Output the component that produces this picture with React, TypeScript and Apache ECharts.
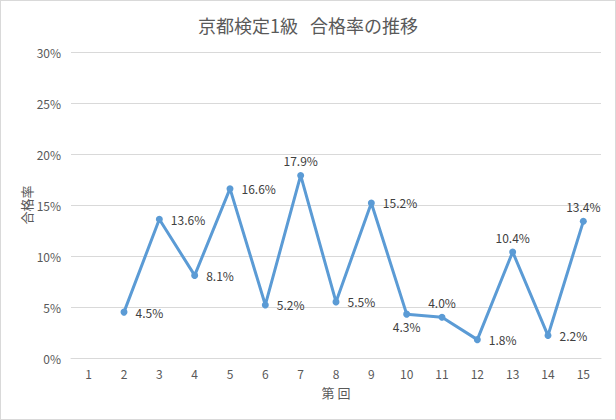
import React, { useEffect, useRef } from "react";
import * as echarts from "echarts";

const categories = ["1", "2", "3", "4", "5", "6", "7", "8", "9", "10", "11", "12", "13", "14", "15"];
const passRates: (number | null)[] = [null, 4.5, 13.6, 8.1, 16.6, 5.2, 17.9, 5.5, 15.2, 4.3, 4.0, 1.8, 10.4, 2.2, 13.4];
const labelPositions = ["right", "right", "right", "right", "right", "right", "top", "right", "right", "bottom", "top", "right", "top", "right", "top"];
const yTicks = [0, 5, 10, 15, 20, 25, 30];

const FONT = "'Noto Sans CJK JP', 'Noto Sans', sans-serif";

export default function App() {
  const ref = useRef<HTMLDivElement>(null);
  useEffect(() => {
    document.body.style.margin = "0";
    const chart = echarts.init(ref.current!, null, { renderer: "svg" });
    const data = passRates.map((v, i) => {
      const pos = labelPositions[i];
      return {
        value: v,
        label: {
          position: pos,
          distance: pos === "right" ? 8 : pos === "top" ? 5 : 3,
        },
      };
    });
    chart.setOption({
      animation: false,
      backgroundColor: "#ffffff",
      title: {
        text: "京都検定1級   合格率の推移",
        left: "center",
        top: 10,
        textStyle: { fontFamily: FONT, fontSize: 18, fontWeight: "normal", color: "#595959" },
      },
      grid: { left: 70, right: 14, top: 51, bottom: 61, containLabel: false },
      xAxis: {
        type: "category",
        data: categories,
        boundaryGap: true,
        name: "第 回",
        nameLocation: "middle",
        nameGap: 28,
        nameMoveOverlap: false,
        nameTextStyle: { fontFamily: FONT, fontSize: 13, color: "#595959" },
        axisLine: { show: true, lineStyle: { color: "#d9d9d9", width: 1 } },
        axisTick: { show: false },
        axisLabel: { fontFamily: FONT, fontSize: 12, color: "#595959", margin: 9 },
      },
      yAxis: {
        type: "value",
        min: yTicks[0],
        max: yTicks[yTicks.length - 1],
        interval: 5,
        name: "合格率",
        nameLocation: "middle",
        nameGap: 38,
        nameMoveOverlap: false,
        nameRotate: 90,
        nameTextStyle: { fontFamily: FONT, fontSize: 13, color: "#595959" },
        axisLine: { show: false },
        axisTick: { show: false },
        axisLabel: { fontFamily: FONT, fontSize: 12, color: "#595959", margin: 10, formatter: "{value}%" },
        splitLine: { lineStyle: { color: "#d9d9d9", width: 1 } },
      },
      series: [
        {
          type: "line",
          data,
          connectNulls: false,
          symbol: "circle",
          symbolSize: 7,
          itemStyle: { color: "#5b9bd5" },
          lineStyle: { color: "#5b9bd5", width: 3 },
          label: {
            show: true,
            fontFamily: FONT,
            fontSize: 12,
            color: "#404040",
            formatter: (p: any) => p.value.toFixed(1) + "%",
          },
        },
      ],
    });
    return () => chart.dispose();
  }, []);
  return (
    <div
      style={{
        position: "absolute",
        left: 0,
        top: 0,
        width: 616,
        height: 420,
        boxSizing: "border-box",
        border: "1px solid #d9d9d9",
      }}
    >
      <div ref={ref} style={{ width: 614, height: 418 }} />
    </div>
  );
}
